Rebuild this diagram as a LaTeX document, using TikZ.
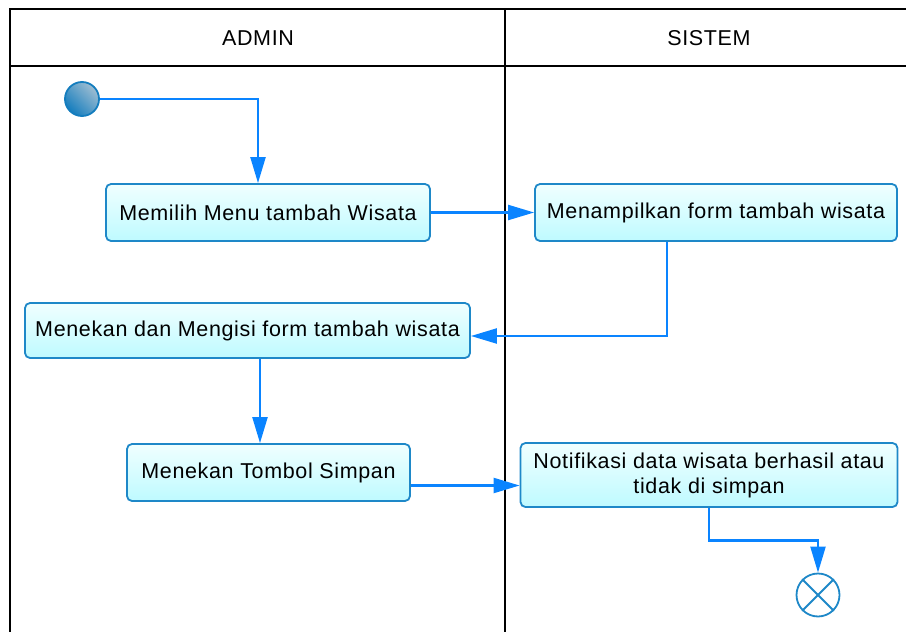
\documentclass[tikz,border=0pt]{standalone}
\usepackage{fontspec}
\setmainfont[LetterSpace=3]{Liberation Sans}
\usetikzlibrary{arrows.meta,calc}
\definecolor{boxborder}{RGB}{30,136,200}
\definecolor{conn}{RGB}{10,132,255}
\definecolor{fillA}{RGB}{240,255,255}
\definecolor{fillB}{RGB}{190,250,255}
\definecolor{ballA}{RGB}{160,190,210}
\definecolor{ballB}{RGB}{20,125,190}
\tikzset{
  lane/.style={line width=2.2pt, black},
  actbox/.style={draw=boxborder, line width=1.8pt, rounded corners=5pt,
    top color=fillA, bottom color=fillB, align=center, inner sep=2pt,
    font=\fontsize{21.5}{25}\selectfont},
  flow/.style={draw=conn, line width=2.2pt, -{Triangle[length=26pt,width=15pt]}},
  lanetitle/.style={font=\fontsize{21.5}{25}\selectfont, inner sep=0pt},
  startnode/.style={circle, draw=ballB, line width=1.8pt, minimum size=34pt, inner sep=0pt,
    left color=ballA, right color=ballB, shading angle=-45},
  endnode/.style={circle, draw=boxborder, line width=1.8pt, minimum size=43pt, inner sep=0pt, fill=white}
}
\begin{document}
\begin{tikzpicture}[x=1pt,y=-1pt]
\useasboundingbox (0,0) rectangle (906,632);
% swimlanes
\draw[lane] (906,9) -- (10,9) -- (10,640);
\draw[lane] (10,66) -- (906,66);
\draw[lane] (505,9) -- (505,640);
\node[lanetitle] (admin) at (258,38) {ADMIN};
\node[lanetitle] (sistem) at (709,38) {SISTEM};
% nodes
\node[startnode] (start) at (82,99) {};
\node[actbox, minimum width=324pt, minimum height=57pt] (b1) at (268,212.5) {Memilih Menu tambah Wisata};
\node[actbox, minimum width=362pt, minimum height=57pt] (b2) at (716,212.5) {Menampilkan form tambah wisata};
\node[actbox, minimum width=445pt, minimum height=55pt] (b3) at (247.5,330.5) {Menekan dan Mengisi form tambah wisata};
\node[actbox, minimum width=283pt, minimum height=57pt] (b4) at (268.5,472.5) {Menekan Tombol Simpan};
\node[actbox, minimum width=377pt, minimum height=64pt] (b5) at (709,475) {Notifikasi data wisata berhasil atau\\tidak di simpan};
\node[endnode] (end) at (818,595) {};
\draw[boxborder, line width=1.8pt] (end.north east) -- (end.south west);
\draw[boxborder, line width=1.8pt] (end.north west) -- (end.south east);
% connectors
\draw[flow] (start.east) -| ([xshift=-10pt]b1.north);
\draw[flow] (b1.east) -- (b2.west);
\draw[flow] ([xshift=-49pt]b2.south) |- ([yshift=-5.5pt]b3.east);
\draw[flow] ([xshift=12.5pt]b3.south) -- ([xshift=12.5pt]b3.south |- b4.north);
\draw[flow] ([yshift=-13pt]b4.east) -- ([yshift=-13pt]b4.east -| b5.west);
\draw[flow] (b5.south) -- ++(0,32.5) -| (end.north);
\end{tikzpicture}
\end{document}
